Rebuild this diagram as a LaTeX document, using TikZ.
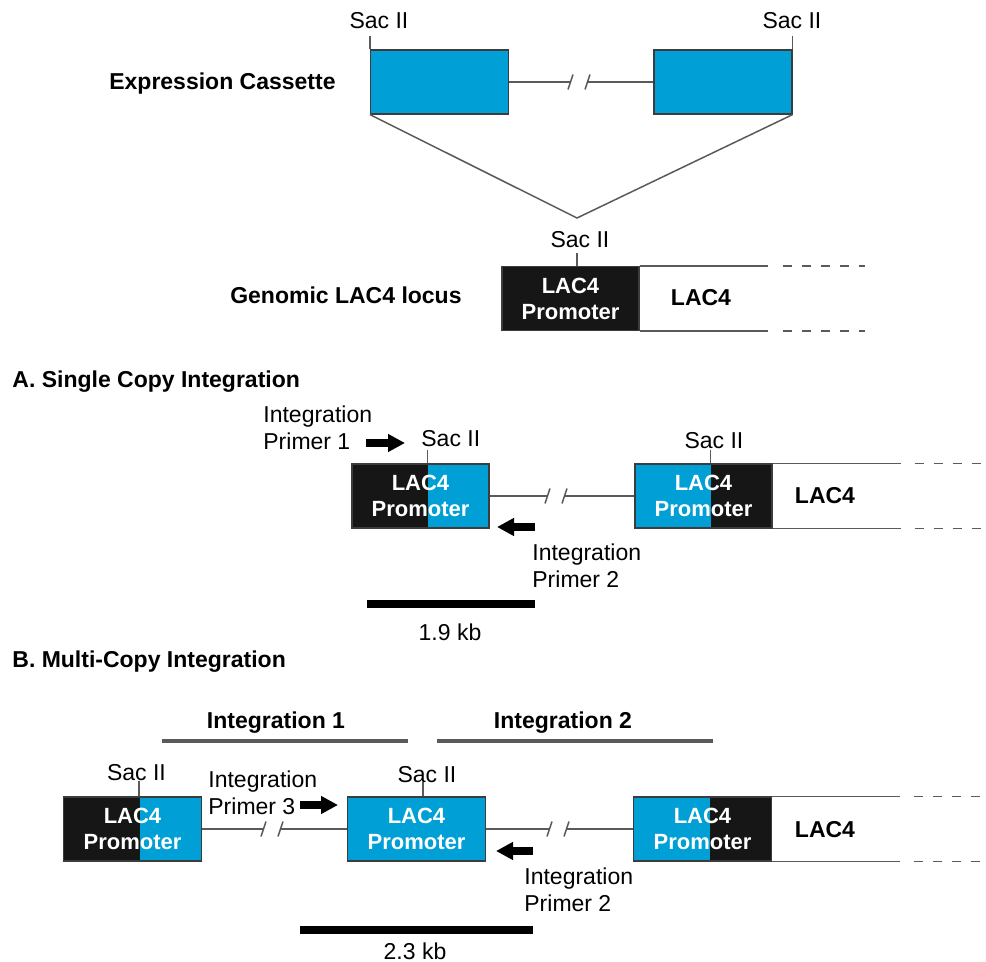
\documentclass[tikz,border=0pt]{standalone}
\usepackage{fontspec}
\setmainfont{Liberation Sans}
\usetikzlibrary{arrows.meta}
\definecolor{cblue}{RGB}{0,159,214}
\definecolor{cblack}{RGB}{22,22,22}
\definecolor{linegray}{RGB}{90,90,90}
\definecolor{boxline}{RGB}{60,60,60}
\newcommand{\dnabreak}[1]{%
  \fill[white] ([xshift=-4.25pt,yshift=-2pt]#1) rectangle ([xshift=4.25pt,yshift=2pt]#1);
  \draw[dna] ([xshift=-5.5pt,yshift=-3.75pt]#1) -- ++(2.5pt,7.5pt);
  \draw[dna] ([xshift=3pt,yshift=-3.75pt]#1) -- ++(2.5pt,7.5pt);}

\begin{document}
\begin{tikzpicture}[x=0.5pt, y=-0.5pt,
  every node/.style={font=\fontsize{11.5}{13.5}\selectfont, inner sep=0pt},
  head/.style={font=\fontsize{11.5}{13.5}\selectfont\bfseries},
  dna/.style={draw=linegray, line width=0.75pt},
  tail/.style={dna, dash pattern=on 4.5pt off 5pt},
  box/.style={draw=boxline, line width=0.6pt, minimum width=69pt, minimum height=32pt,
    align=center, text=white, font=\fontsize{11}{13}\selectfont\bfseries},
  split/.style 2 args={box, fill=#1, path picture={\fill[#2] (path picture bounding box.south west)
    rectangle ([xshift=38pt]path picture bounding box.north west);}},
  primer/.style={line width=4pt, -{Triangle[length=8.5pt,width=8.5pt]}},
  bar/.style={line width=4pt},
  span/.style={draw=linegray, line width=1.75pt}]
  \useasboundingbox (0,0) rectangle (986,962);

  % expression cassette
  \node[head, anchor=base east] (cas) at (336,90) {Expression Cassette};
  \node[box, fill=cblue] (c1) at (439.5,82) {};
  \node[box, fill=cblue] (c2) at (723,82) {};
  \coordinate (bk0) at (579,82);
  \draw[dna] (c1) -- (c2);
  \dnabreak{bk0}
  \draw[dna] (c1.north west) -- ++(0,-13);
  \node[anchor=base] (s1) at (379,29) {Sac II};
  \draw[dna] (c2.north east) -- ++(0,-13);
  \node[anchor=base] (s2) at (792,29) {Sac II};
  \coordinate (ins) at (577,218);
  \draw[dna] (c1.south west) -- (ins) -- (c2.south east);

  % genomic locus
  \node[head, anchor=base east] (gl) at (462,304) {Genomic LAC4 locus};
  \node[box, fill=cblack, minimum width=68.5pt] (g1) at (570.5,298.5) {LAC4\\Promoter};
  \draw[dna] ([xshift=3.25pt]g1.north) -- ++(0,-13);
  \node[anchor=base] (s3) at (580,248) {Sac II};
  \draw[dna] (g1.north east) -- ++(128,0);
  \draw[dna] (g1.south east) -- ++(128,0);
  \draw[tail] (g1.north east) ++(143,0) -- ++(82,0);
  \draw[tail] (g1.south east) ++(143,0) -- ++(82,0);
  \node[head, anchor=base] (gz) at (701,306) {LAC4};

  % A. single copy
  \node[head, anchor=base west] (ta) at (12,388) {A. Single Copy Integration};
  \node[split={cblue}{cblack}, minimum width=68.5pt] (a1) at (420.5,496) {LAC4\\Promoter};
  \node[split={cblack}{cblue}, minimum width=68.5pt] (a2) at (703.5,496) {LAC4\\Promoter};
  \coordinate (bk1) at (556,496);
  \draw[dna] (a1) -- (a2);
  \dnabreak{bk1}
  \draw[dna] ([xshift=38pt]a1.north west) -- ++(0,-13);
  \node[anchor=base west] (s4) at (421,447) {Sac II};
  \draw[dna] ([xshift=38pt]a2.north west) -- ++(0,-13);
  \node[anchor=base] (s5) at (714,449) {Sac II};
  \draw[dna] (a2.north east) -- ++(128,0);
  \draw[dna] (a2.south east) -- ++(128,0);
  \draw[tail] (a2.north east) ++(142,0) -- ++(90,0);
  \draw[tail] (a2.south east) ++(142,0) -- ++(90,0);
  \node[head, anchor=base] (az) at (825,504) {LAC4};
  \node[anchor=north west, align=left] (p1) at (263,405) {Integration\\Primer 1};
  \coordinate (p1a) at (366,443);
  \coordinate (p1b) at (405,443);
  \draw[primer] (p1a) -- (p1b);
  \node[anchor=north west, align=left] (p2) at (532,543) {Integration\\Primer 2};
  \coordinate (p2a) at (535,527);
  \coordinate (p2b) at (497,527);
  \draw[primer] (p2a) -- (p2b);
  \coordinate (ka) at (367,604);
  \coordinate (kb) at (535,604);
  \draw[bar] (ka) -- (kb);
  \node[anchor=base] (kl) at (450,640) {1.9 kb};

  % B. multi copy
  \node[head, anchor=base west] (tb) at (12,668) {B. Multi-Copy Integration};
  \node[head, anchor=base] (i1) at (276,728) {Integration 1};
  \draw[span] (162,741) -- (408,741);
  \node[head, anchor=base] (i2) at (563,728) {Integration 2};
  \draw[span] (437,741) -- (713,741);
  \node[split={cblue}{cblack}] (b1) at (132.5,829) {LAC4\\Promoter};
  \node[box, fill=cblue] (b2) at (416.5,829) {LAC4\\Promoter};
  \node[split={cblack}{cblue}] (b3) at (702.5,829) {LAC4\\Promoter};
  \coordinate (bk2) at (272,829);
  \coordinate (bk3) at (558,829);
  \draw[dna] (b1) -- (b2);
  \draw[dna] (b2) -- (b3);
  \dnabreak{bk2}
  \dnabreak{bk3}
  \draw[dna] ([xshift=38pt]b1.north west) -- ++(0,-15);
  \node[anchor=base] (s6) at (136.5,780) {Sac II};
  \draw[dna] ([xshift=3.25pt]b2.north) -- ++(0,-14);
  \node[anchor=base] (s7) at (427,782) {Sac II};
  \draw[dna] (b3.north east) -- ++(128,0);
  \draw[dna] (b3.south east) -- ++(128,0);
  \draw[tail] (b3.north east) ++(142,0) -- ++(90,0);
  \draw[tail] (b3.south east) ++(142,0) -- ++(90,0);
  \node[head, anchor=base] (bz) at (825,837) {LAC4};
  \node[anchor=north west, align=left] (p3) at (208,770) {Integration\\Primer 3};
  \coordinate (p3a) at (300,805);
  \coordinate (p3b) at (338,805);
  \draw[primer] (p3a) -- (p3b);
  \node[anchor=north west, align=left] (p4) at (524,867) {Integration\\Primer 2};
  \coordinate (p4a) at (533,851);
  \coordinate (p4b) at (496,851);
  \draw[primer] (p4a) -- (p4b);
  \coordinate (kc) at (300,930);
  \coordinate (kd) at (533,930);
  \draw[bar] (kc) -- (kd);
  \node[anchor=base] (km) at (415,959) {2.3 kb};
\end{tikzpicture}
\end{document}
